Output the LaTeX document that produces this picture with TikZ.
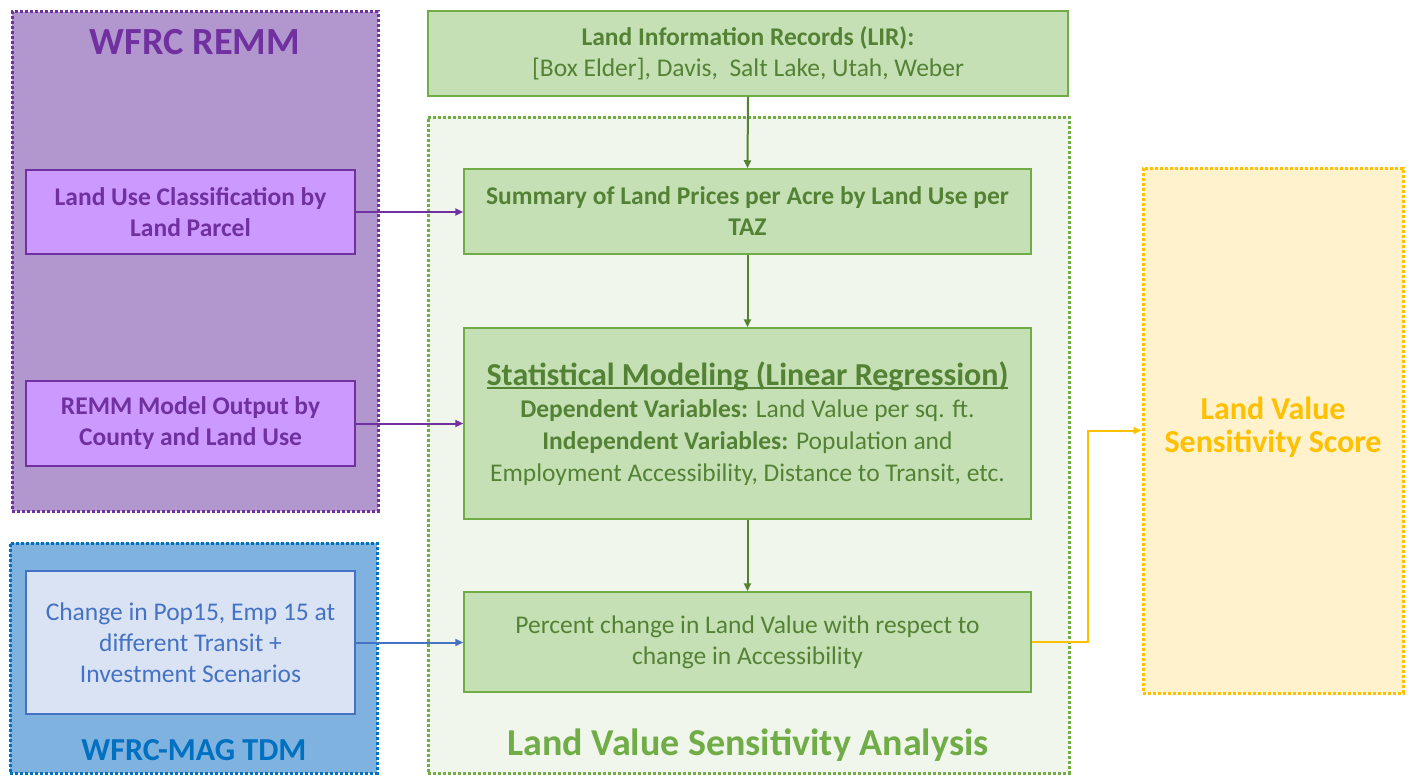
\documentclass[tikz,border=0pt]{standalone}
\usepackage{fontspec}
\setmainfont{Carlito}
\usetikzlibrary{arrows.meta}
\definecolor{remmF}{HTML}{B296CE}
\definecolor{remmB}{HTML}{7030A0}
\definecolor{remmI}{HTML}{CC99FF}
\definecolor{tdmF}{HTML}{7FB2DE}
\definecolor{tdmB}{HTML}{0070C0}
\definecolor{tdmI}{HTML}{DAE3F3}
\definecolor{tdmT}{HTML}{4472C4}
\definecolor{grF}{HTML}{C5E0B4}
\definecolor{grB}{HTML}{70AD47}
\definecolor{grT}{HTML}{548235}
\definecolor{grO}{HTML}{F0F6EC}
\definecolor{yeF}{HTML}{FFF2CC}
\definecolor{yeB}{HTML}{FFC000}
\newcommand\ulthick[1]{\setbox0\hbox{#1}\rlap{\rule[-4pt]{\wd0}{2pt}}\box0}
\begin{document}
\begin{tikzpicture}[x=1pt,y=-1pt,
  outerbox/.style={line width=3pt, dash pattern=on 3pt off 2pt, inner sep=0pt},
  innerbox/.style={line width=1.5pt, inner sep=2pt, align=center},
  arr/.style={line width=2pt, -{Triangle[length=8pt,width=7pt]}},
  boxfont/.style={font=\fontsize{25.5}{31}\selectfont},
  boldboxfont/.style={font=\fontsize{25.5}{31}\selectfont\bfseries}
]
\useasboundingbox (0,0) rectangle (1410,776);
\fill[white] (0,0) rectangle (1410,776);
% outer groups
\node[outerbox, draw=remmB, fill=remmF, minimum width=366pt, minimum height=499pt] (remm) at (195,261.5) {};
\node[outerbox, draw=tdmB, fill=tdmF, minimum width=367pt, minimum height=230pt] (tdm) at (193.5,658) {};
\node[outerbox, draw=grB, fill=grO, minimum width=641pt, minimum height=656pt] (lvsa) at (748.5,445) {};
\node[outerbox, draw=yeB, fill=yeF, minimum width=260pt, minimum height=525pt] (score) at (1273,430.5) {};
% titles
\node[font=\bfseries\fontsize{38.4}{40}\selectfont, text=remmB] (remmtitle) at (195,42) {WFRC REMM};
\node[font=\bfseries\fontsize{32}{40}\selectfont, text=tdmB] (tdmtitle) at (194,750) {WFRC-MAG TDM};
\node[font=\bfseries\fontsize{38}{40}\selectfont, text=grB] (lvsatitle) at (748,745) {Land Value Sensitivity Analysis};
\node[font=\bfseries\fontsize{32}{33}\selectfont, text=yeB, align=center] (scoretitle) at (1273,427) {Land Value\\Sensitivity Score};
% inner boxes
\node[innerbox, boldboxfont, draw=remmB, fill=remmI, text=remmB, minimum width=329pt, minimum height=84pt] (lu) at (190.5,212) {Land Use Classification by\\Land Parcel};
\node[innerbox, boldboxfont, draw=remmB, fill=remmI, text=remmB, minimum width=329pt, minimum height=85pt] (remmout) at (190.5,423.5) {REMM Model Output by\\County and Land Use};
\node[innerbox, boxfont, draw=tdmT, fill=tdmI, text=tdmT, minimum width=329pt, minimum height=143pt] (chg) at (190.5,642.5) {Change in Pop15, Emp 15 at\\different Transit +\\Investment Scenarios};
\node[innerbox, boxfont, draw=grB, fill=grF, text=grT, minimum width=640pt, minimum height=85pt] (lir) at (748,53.5) {\textbf{Land Information Records (LIR):}\\{[Box Elder]}, Davis,\ \ Salt Lake, Utah, Weber};
\node[innerbox, boldboxfont, draw=grB, fill=grF, text=grT, minimum width=567pt, minimum height=85pt] (summ) at (747.5,211.5) {Summary of Land Prices per Acre by Land Use per\\TAZ};
\node[innerbox, font=\fontsize{25.5}{32}\selectfont, draw=grB, fill=grF, text=grT, minimum width=567pt, minimum height=191pt] (stat) at (747.5,423.5) {{\fontsize{32}{32}\selectfont\bfseries\ulthick{Statistical Modeling (Linear Regression)}}\\\textbf{Dependent Variables:} Land Value per sq. ft.\\\textbf{Independent Variables:} Population and\\Employment Accessibility, Distance to Transit, etc.};
\node[innerbox, boxfont, draw=grB, fill=grF, text=grT, minimum width=567pt, minimum height=100pt] (pct) at (747.5,642) {Percent change in Land Value with respect to\\change in Accessibility};
% connectors
\draw[arr, draw=grT] (lir.south) -- (summ.north);
\draw[arr, draw=grT] (summ.south) -- (stat.north);
\draw[arr, draw=grT] (stat.south) -- (pct.north);
\draw[arr, draw=remmB] (lu.east) -- (lu.east -| summ.west);
\draw[arr, draw=remmB] (remmout.east) -- (remmout.east -| stat.west);
\draw[arr, draw=tdmT] (chg.east) -- (chg.east -| pct.west);
\draw[arr, draw=yeB] (pct.east) -- ++(56,0) |- (score.west);
\end{tikzpicture}
\end{document}
